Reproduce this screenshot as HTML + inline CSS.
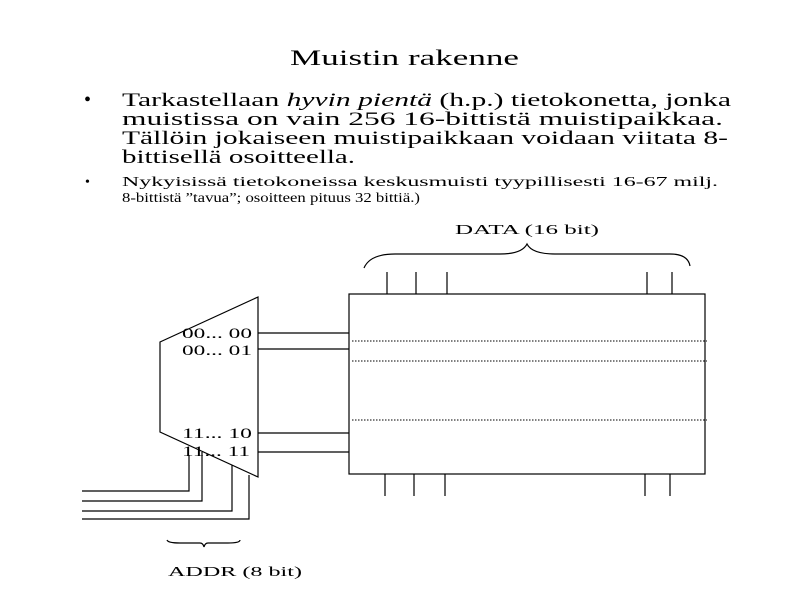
<!DOCTYPE html>
<html><head><meta charset="utf-8"><style>html,body{margin:0;padding:0;background:#fff}svg{display:block}</style></head>
<body>
<svg width="800" height="600" viewBox="0 0 800 600" xmlns="http://www.w3.org/2000/svg" font-family="'Liberation Serif', serif" fill="#000">
<text x="290" y="65" font-size="22" textLength="229" lengthAdjust="spacingAndGlyphs">Muistin rakenne</text>
<text x="84" y="106" font-size="20">•</text>
<text x="122" y="106" font-size="19" textLength="609" lengthAdjust="spacingAndGlyphs">Tarkastellaan <tspan font-style="italic">hyvin pientä</tspan> (h.p.) tietokonetta, jonka</text>
<text x="122" y="125" font-size="19" textLength="601" lengthAdjust="spacingAndGlyphs">muistissa on vain 256 16-bittistä muistipaikkaa.</text>
<text x="122" y="144" font-size="19" textLength="606" lengthAdjust="spacingAndGlyphs">Tällöin jokaiseen muistipaikkaan voidaan viitata 8-</text>
<text x="122" y="163" font-size="19" textLength="233" lengthAdjust="spacingAndGlyphs">bittisellä osoitteella.</text>
<text x="85" y="186" font-size="14">•</text>
<text x="122" y="186" font-size="14" textLength="596" lengthAdjust="spacingAndGlyphs">Nykyisissä tietokoneissa keskusmuisti tyypillisesti 16-67 milj.</text>
<text x="122" y="202" font-size="14" textLength="298" lengthAdjust="spacingAndGlyphs">8-bittistä ”tavua”; osoitteen pituus 32 bittiä.)</text>
<text x="455" y="234" font-size="14" textLength="144" lengthAdjust="spacingAndGlyphs">DATA (16 bit)</text>
<g fill="none" stroke="#000" stroke-width="1.2">
<path d="M364 268 Q370 254 395 254 L500 254 Q522 254 527 244 Q532 254 555 254 L670 254 Q688 254 690 266"/>
<rect x="349" y="294" width="356" height="180"/>
<path d="M387 272V294M416 272V294M447 272V294M647 272V294M672 272V294"/>
<path d="M385 474V496M414 474V496M445 474V496M645 474V496M670 474V496"/>
<path d="M160 342L258 297V477L160 432Z"/>
<path d="M258 333H349M258 349H349M258 433H349M258 452H349"/>
<path d="M82 491H189V455M82 501H202V452M82 511H232V465M82 519H249V475"/>
<path d="M167 540Q168 543 180 543L200 543Q203 543 204 547Q205 543 208 543L228 543Q240 543 240 540"/>
</g>
<g stroke="#000" stroke-width="1" stroke-dasharray="1.5 1.5">
<path d="M352 341H707M352 361H707M352 420H707"/>
</g>
<text x="182" y="338" font-size="15" textLength="70" lengthAdjust="spacingAndGlyphs">00... 00</text>
<text x="182" y="355" font-size="15" textLength="70" lengthAdjust="spacingAndGlyphs">00... 01</text>
<text x="182" y="438" font-size="15" textLength="70" lengthAdjust="spacingAndGlyphs">11... 10</text>
<text x="182" y="456" font-size="15" textLength="68" lengthAdjust="spacingAndGlyphs">11... 11</text>
<text x="168" y="576" font-size="14" textLength="134" lengthAdjust="spacingAndGlyphs">ADDR (8 bit)</text>
</svg>
</body></html>
